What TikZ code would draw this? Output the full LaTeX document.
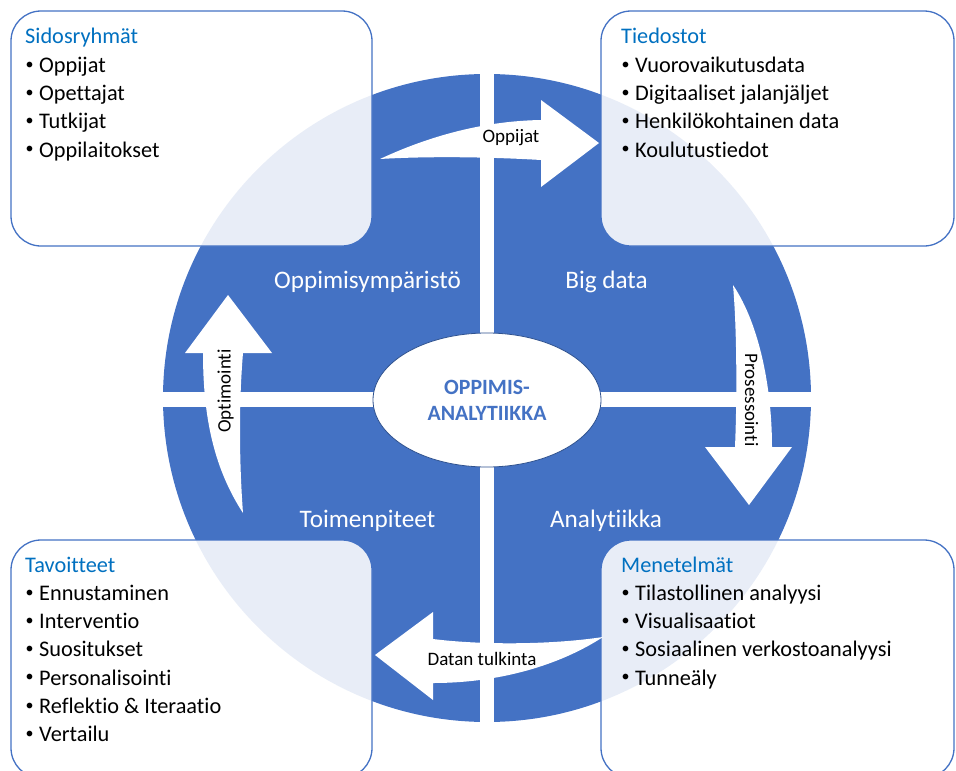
\documentclass[tikz,border=0pt]{standalone}
\usepackage{fontspec}
\setmainfont{Carlito}[Ligatures=NoCommon]
\usetikzlibrary{shapes.geometric}
\definecolor{diskblue}{HTML}{4472C4}
\definecolor{headblue}{HTML}{0070C0}
\definecolor{rimblue}{HTML}{2F528F}
\newcommand\itemdot{\makebox[14pt][l]{\hspace{0.5pt}\raisebox{3.2pt}{\fontsize{16}{16}\selectfont •}}}

\begin{document}
\begin{tikzpicture}[x=1pt,y=-1pt,
  panel/.style={draw=diskblue, line width=1.3pt, fill=white, fill opacity=0.88, rounded corners=30pt},
  head/.style={anchor=base west, inner sep=0pt, text=headblue, font=\fontsize{22.3}{26}\selectfont},
  entry/.style={anchor=base west, inner sep=0pt, font=\fontsize{22.3}{26}\selectfont},
  quarter/.style={anchor=base, inner sep=0pt, text=white, font=\fontsize{25.2}{30}\selectfont},
  flow/.style={fill=white},
  flowtext/.style={anchor=base, inner sep=0pt, font=\fontsize{19}{22}\selectfont},
]
\useasboundingbox (0,0) rectangle (956,771);
\clip (0,0) rectangle (956,771);

% disc split by a white cross
\fill[diskblue] (487,398) circle[radius=324pt];
\fill[white] (480,60) rectangle (494,740);
\fill[white] (150,392) rectangle (825,407);

% centre ellipse
\node[ellipse, draw=rimblue, line width=0.8pt, fill=white, minimum width=228pt,
      minimum height=134pt, inner sep=0pt, align=center, text=diskblue,
      font=\bfseries\fontsize{21.8}{26}\selectfont] (core) at (487,400) {OPPIMIS-\\ANALYTIIKKA};

% quarter titles
\node[quarter] (q1) at (367.5,288) {Oppimisympäristö};
\node[quarter] (q2) at (606.5,288) {Big data};
\node[quarter] (q3) at (367.5,527) {Toimenpiteet};
\node[quarter] (q4) at (606,527) {Analytiikka};

% corner panels
\draw[panel] (11,11) rectangle (372,246);
\draw[panel] (601,11) rectangle (954,246);
\draw[panel] (11,540) rectangle (372,778);
\draw[panel] (601,540) rectangle (954,778);

% curved block arrows
\fill[flow] (380,159) .. controls (425,138) and (480,121) .. (541,120) -- (541,100) -- (599,143)
  -- (541,187) -- (541,160) .. controls (490,157) and (430,156) .. (380,159) -- cycle;
\fill[flow] (243,513) .. controls (215,470) and (203,420) .. (203,353) -- (185,353) -- (228,295)
  -- (272,353) -- (243,353) .. controls (239,400) and (239,460) .. (243,513) -- cycle;
\fill[flow] (733,285) .. controls (760,325) and (772,390) .. (772,447) -- (792,447) -- (749,505)
  -- (705,447) -- (735,447) .. controls (737,400) and (737,330) .. (733,285) -- cycle;
\fill[flow] (603,637) .. controls (560,665) and (500,683) .. (433,683) -- (433,700) -- (375,655)
  -- (433,612) -- (433,639) .. controls (480,645) and (550,645) .. (603,637) -- cycle;

\node[flowtext] (l1) at (511,142) {Oppijat};
\node[flowtext, rotate=90] (l2) at (230.5,391) {Optimointi};
\node[flowtext, rotate=-90] (l3) at (745,400) {Prosessointi};
\node[flowtext] (l4) at (482,665) {Datan tulkinta};

% panel contents
\node[head] (tlh) at (25,43) {Sidosryhmät};
\foreach \t [count=\i] in {Oppijat,Opettajat,Tutkijat,Oppilaitokset}
  \node[entry] (tl\i) at (25,{72.5+28.2*(\i-1)}) {\itemdot\t};

\node[head] (trh) at (621,43) {Tiedostot};
\foreach \t [count=\i] in {Vuorovaikutusdata,Digitaaliset jalanjäljet,Henkilökohtainen data,Koulutustiedot}
  \node[entry] (tr\i) at (621,{72.5+28.2*(\i-1)}) {\itemdot\t};

\node[head] (blh) at (25,572) {Tavoitteet};
\foreach \t [count=\i] in {Ennustaminen,Interventio,Suositukset,Personalisointi,Reflektio \& Iteraatio,Vertailu}
  \node[entry] (bl\i) at (25,{600.5+28.2*(\i-1)}) {\itemdot\t};

\node[head] (brh) at (621,572) {Menetelmät};
\foreach \t [count=\i] in {Tilastollinen analyysi,Visualisaatiot,Sosiaalinen verkostoanalyysi,Tunneäly}
  \node[entry] (br\i) at (621,{600.5+28.2*(\i-1)}) {\itemdot\t};
\end{tikzpicture}
\end{document}
